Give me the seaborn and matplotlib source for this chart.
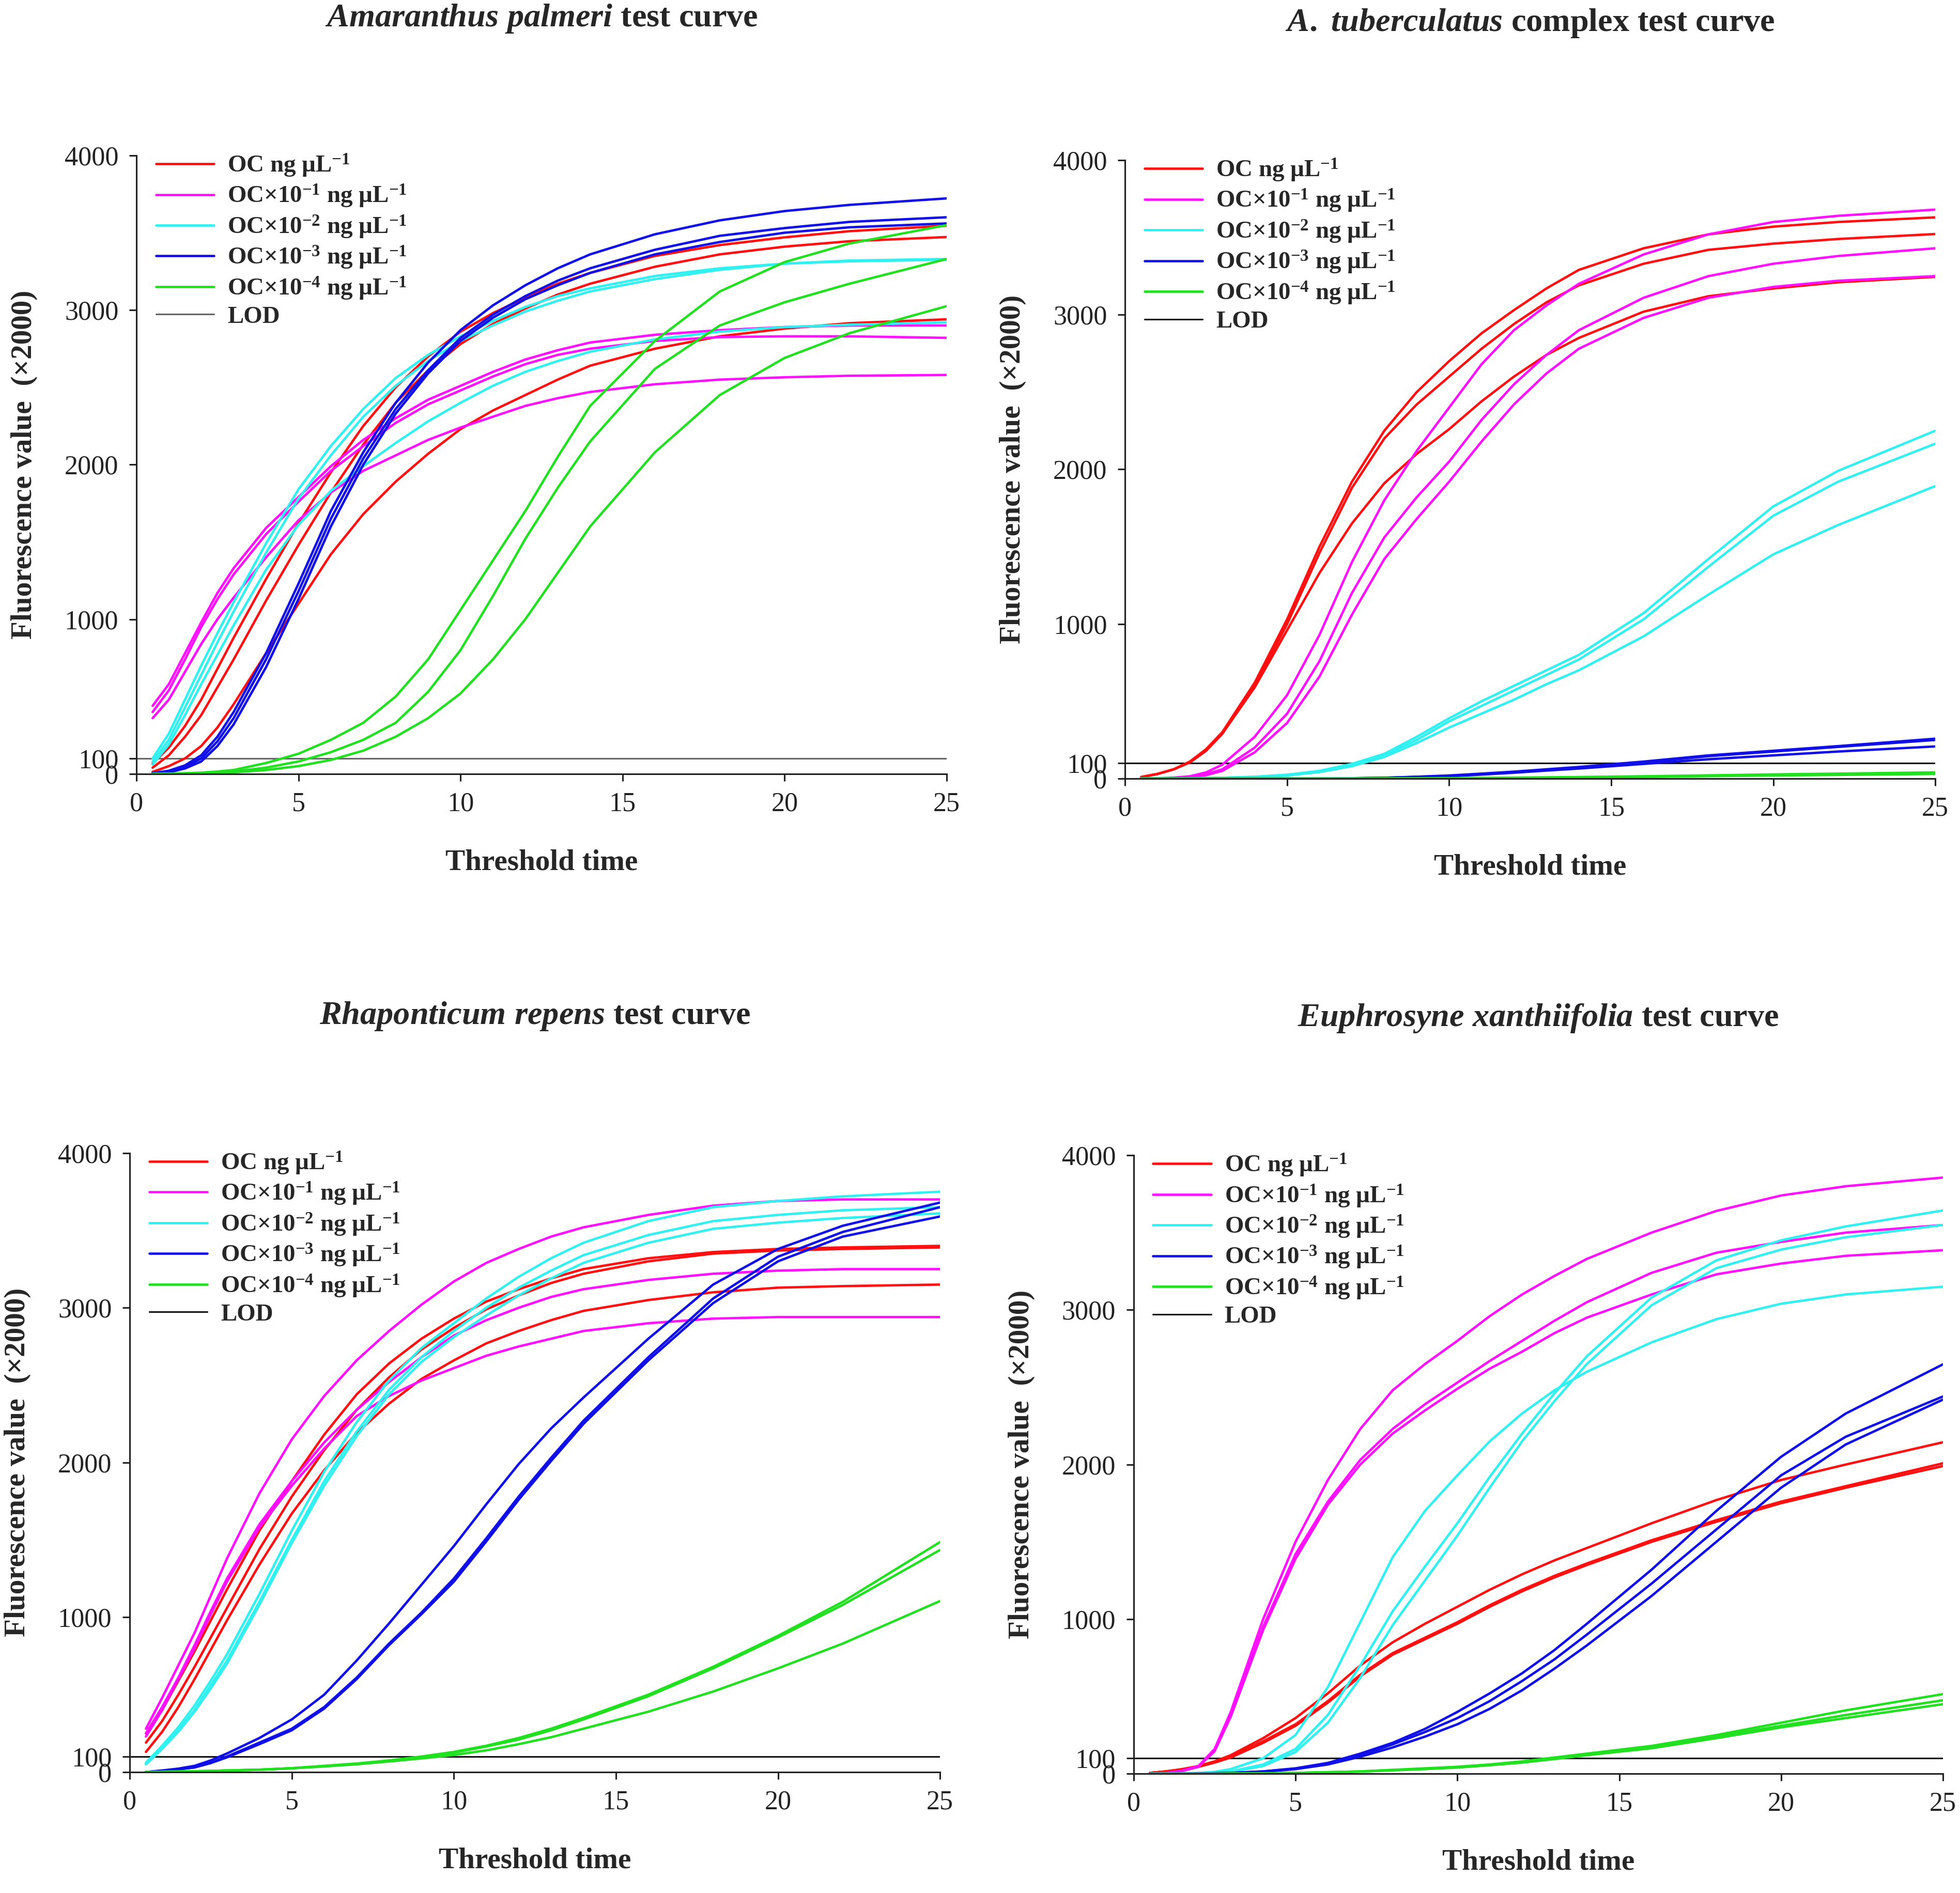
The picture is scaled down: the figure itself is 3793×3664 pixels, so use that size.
import matplotlib
matplotlib.use("Agg")
import matplotlib.pyplot as plt
import seaborn as sns
import pandas as pd
from matplotlib.lines import Line2D

# sampled threshold times (same for every curve)
X = [0.5, 1, 1.5, 2, 2.5, 3, 4, 5, 6, 7, 8, 9, 10, 11, 12, 13, 14, 16, 18, 20, 22, 25]
LOD = 100

CONC = ["OC ng µL$^{-1}$",
        "OC×10$^{-1}$ ng µL$^{-1}$",
        "OC×10$^{-2}$ ng µL$^{-1}$",
        "OC×10$^{-3}$ ng µL$^{-1}$",
        "OC×10$^{-4}$ ng µL$^{-1}$"]
COLORS = ["#ff1010", "#ff10ff", "#30f0f0", "#1010e6", "#20e020"]

# --- Amaranthus palmeri (3 replicates per dilution) ---
a_oc = [[67, 170, 310, 480, 680, 880, 1260, 1620, 1950, 2250, 2500, 2700, 2860, 2980, 3080, 3170, 3240, 3350, 3420, 3470, 3510, 3545],
        [40, 120, 240, 380, 560, 740, 1120, 1480, 1820, 2130, 2400, 2610, 2780, 2910, 3010, 3100, 3170, 3280, 3360, 3410, 3445, 3472],
        [13, 50, 100, 180, 300, 450, 780, 1100, 1420, 1680, 1890, 2070, 2230, 2350, 2450, 2550, 2640, 2750, 2830, 2880, 2915, 2940]]
a_d1 = [[440, 580, 780, 980, 1170, 1330, 1590, 1790, 1990, 2160, 2300, 2420, 2510, 2600, 2680, 2740, 2790, 2840, 2870, 2890, 2900, 2900],
        [400, 540, 740, 950, 1130, 1290, 1550, 1760, 1960, 2120, 2270, 2390, 2480, 2570, 2650, 2710, 2750, 2800, 2825, 2830, 2830, 2820],
        [360, 480, 660, 840, 1000, 1140, 1400, 1640, 1820, 1960, 2060, 2160, 2240, 2310, 2380, 2430, 2470, 2520, 2550, 2565, 2575, 2580]]
a_d2 = [[100, 260, 480, 700, 910, 1110, 1490, 1840, 2120, 2360, 2560, 2710, 2830, 2930, 3020, 3090, 3140, 3220, 3270, 3300, 3320, 3330],
        [80, 220, 430, 640, 850, 1050, 1430, 1780, 2060, 2310, 2510, 2670, 2800, 2900, 2990, 3060, 3120, 3200, 3260, 3300, 3315, 3325],
        [60, 190, 380, 580, 770, 960, 1320, 1610, 1830, 1990, 2140, 2280, 2400, 2510, 2600, 2670, 2730, 2810, 2860, 2890, 2905, 2920]]
a_d3 = [[5, 20, 55, 120, 240, 400, 780, 1230, 1700, 2080, 2400, 2660, 2870, 3030, 3160, 3270, 3360, 3490, 3580, 3640, 3680, 3722],
        [5, 15, 45, 100, 210, 360, 740, 1180, 1650, 2040, 2360, 2610, 2820, 2970, 3090, 3190, 3270, 3390, 3480, 3530, 3570, 3600],
        [3, 10, 35, 80, 180, 320, 690, 1130, 1600, 2000, 2330, 2590, 2800, 2950, 3070, 3160, 3240, 3360, 3440, 3500, 3535, 3560]]
a_d4 = [[0, 2, 4, 8, 15, 25, 70, 130, 220, 330, 500, 740, 1060, 1380, 1700, 2050, 2380, 2800, 3120, 3310, 3430, 3549],
        [0, 1, 3, 5, 10, 15, 40, 80, 140, 220, 330, 530, 800, 1150, 1520, 1850, 2150, 2620, 2900, 3050, 3170, 3330],
        [0, 0, 1, 3, 6, 10, 25, 50, 90, 150, 240, 360, 520, 740, 1000, 1300, 1600, 2080, 2450, 2690, 2850, 3025]]

# --- A. tuberculatus complex ---
b_oc = [[10, 30, 60, 110, 190, 300, 620, 1030, 1500, 1920, 2250, 2500, 2700, 2880, 3030, 3170, 3290, 3430, 3520, 3570, 3600, 3630],
        [10, 30, 60, 105, 180, 290, 600, 1000, 1460, 1880, 2200, 2420, 2600, 2780, 2940, 3080, 3190, 3330, 3420, 3460, 3490, 3522],
        [10, 30, 60, 105, 180, 290, 590, 960, 1330, 1650, 1910, 2100, 2260, 2440, 2600, 2740, 2850, 3020, 3120, 3170, 3210, 3245]]
b_d1 = [[0, 2, 6, 15, 40, 90, 270, 540, 930, 1400, 1800, 2120, 2400, 2680, 2900, 3060, 3200, 3390, 3520, 3600, 3640, 3680],
        [0, 0, 4, 10, 28, 60, 200, 420, 760, 1200, 1560, 1820, 2050, 2320, 2550, 2740, 2900, 3110, 3250, 3330, 3380, 3430],
        [0, 0, 3, 8, 22, 50, 170, 360, 660, 1060, 1420, 1680, 1920, 2180, 2420, 2620, 2780, 2980, 3110, 3180, 3220, 3250]]
b_d2 = [[0, 0, 0, 2, 3, 5, 12, 25, 50, 95, 160, 270, 390, 500, 600, 700, 800, 1070, 1420, 1760, 1990, 2250],
        [0, 0, 0, 2, 3, 5, 10, 22, 45, 88, 150, 250, 370, 470, 570, 670, 770, 1030, 1370, 1700, 1920, 2166],
        [0, 0, 0, 2, 3, 5, 10, 20, 42, 80, 140, 230, 330, 420, 510, 610, 700, 920, 1190, 1450, 1640, 1892]]
b_d3 = [[0, 0, 0, 0, 0, 0, 0, 0, 0, 2, 5, 12, 20, 32, 45, 60, 75, 110, 150, 180, 210, 258],
        [0, 0, 0, 0, 0, 0, 0, 0, 0, 2, 4, 9, 15, 26, 38, 52, 65, 95, 125, 150, 175, 208],
        [0, 0, 0, 0, 0, 0, 0, 0, 0, 2, 5, 11, 18, 30, 42, 57, 72, 105, 145, 175, 205, 250]]
b_d4 = [[0, 0, 0, 0, 0, 0, 0, 0, 0, 0, 1, 2, 3, 4, 6, 8, 10, 15, 21, 27, 32, 40],
        [0, 0, 0, 0, 0, 0, 0, 0, 0, 0, 1, 1, 2, 3, 5, 6, 8, 12, 18, 23, 28, 35],
        [0, 0, 0, 0, 0, 0, 0, 0, 0, 0, 1, 1, 2, 3, 4, 5, 7, 11, 16, 20, 24, 30]]

# --- Rhaponticum repens ---
c_oc = [[250, 400, 590, 780, 980, 1180, 1560, 1880, 2180, 2440, 2640, 2800, 2930, 3040, 3120, 3190, 3250, 3320, 3360, 3380, 3390, 3400],
        [190, 330, 500, 680, 870, 1060, 1440, 1780, 2080, 2340, 2550, 2730, 2870, 2990, 3080, 3160, 3220, 3300, 3350, 3370, 3380, 3390],
        [130, 260, 420, 600, 790, 980, 1340, 1670, 1950, 2190, 2380, 2540, 2660, 2770, 2850, 2920, 2980, 3050, 3100, 3130, 3140, 3150]]
c_d1 = [[280, 480, 690, 900, 1140, 1380, 1800, 2150, 2430, 2660, 2850, 3020, 3170, 3290, 3380, 3460, 3520, 3600, 3660, 3690, 3700, 3700],
        [250, 420, 610, 820, 1040, 1250, 1600, 1880, 2130, 2340, 2520, 2680, 2820, 2920, 3000, 3070, 3120, 3180, 3220, 3240, 3250, 3250],
        [230, 400, 600, 800, 1020, 1230, 1580, 1850, 2090, 2300, 2430, 2530, 2610, 2690, 2750, 2800, 2850, 2900, 2930, 2940, 2940, 2940]]
c_d2 = [[60, 170, 290, 430, 590, 760, 1150, 1560, 1940, 2260, 2530, 2740, 2900, 3060, 3200, 3320, 3420, 3560, 3650, 3690, 3720, 3750],
        [50, 150, 270, 400, 560, 720, 1100, 1500, 1880, 2200, 2470, 2680, 2850, 3000, 3130, 3240, 3340, 3470, 3560, 3600, 3630, 3650],
        [50, 150, 260, 390, 540, 700, 1080, 1480, 1850, 2170, 2440, 2650, 2810, 2950, 3080, 3190, 3290, 3420, 3510, 3550, 3580, 3610]]
c_d3 = [[0, 10, 22, 40, 75, 120, 220, 340, 500, 720, 960, 1210, 1460, 1730, 1990, 2220, 2420, 2800, 3150, 3380, 3530, 3680],
        [0, 8, 18, 30, 60, 100, 190, 280, 420, 610, 830, 1030, 1250, 1510, 1780, 2030, 2270, 2680, 3060, 3330, 3490, 3650],
        [0, 8, 18, 30, 58, 95, 180, 270, 410, 600, 820, 1020, 1230, 1490, 1760, 2010, 2250, 2660, 3030, 3300, 3460, 3590]]
c_d4 = [[0, 2, 3, 5, 7, 10, 15, 25, 40, 55, 75, 100, 130, 170, 220, 280, 350, 500, 680, 880, 1100, 1486],
        [0, 2, 3, 5, 7, 10, 15, 25, 38, 52, 72, 96, 125, 165, 210, 270, 340, 490, 670, 870, 1080, 1435],
        [0, 2, 3, 5, 7, 10, 15, 24, 36, 50, 68, 88, 110, 140, 180, 225, 280, 390, 520, 670, 830, 1105]]

# --- Euphrosyne xanthiifolia ---
d_oc = [[5, 15, 30, 50, 80, 120, 230, 360, 520, 700, 850, 970, 1080, 1190, 1290, 1380, 1460, 1620, 1770, 1900, 2000, 2144],
        [5, 15, 28, 45, 75, 110, 210, 320, 470, 640, 780, 880, 980, 1090, 1190, 1280, 1360, 1510, 1640, 1760, 1860, 2008],
        [5, 15, 28, 45, 72, 105, 200, 310, 460, 630, 770, 870, 970, 1080, 1180, 1270, 1350, 1500, 1630, 1750, 1850, 1990]]
d_d1 = [[0, 5, 20, 50, 160, 400, 1000, 1500, 1900, 2230, 2480, 2650, 2800, 2960, 3100, 3220, 3330, 3500, 3640, 3740, 3800, 3856],
        [0, 5, 18, 45, 150, 380, 950, 1420, 1760, 2030, 2230, 2390, 2530, 2670, 2800, 2930, 3050, 3240, 3370, 3440, 3500, 3549],
        [0, 5, 18, 45, 145, 370, 930, 1390, 1740, 2000, 2200, 2350, 2490, 2620, 2730, 2850, 2950, 3100, 3230, 3300, 3350, 3386]]
d_d2 = [[0, 0, 0, 5, 12, 30, 100, 250, 560, 980, 1400, 1700, 1930, 2150, 2330, 2480, 2600, 2790, 2940, 3040, 3100, 3150],
        [0, 0, 0, 2, 6, 15, 60, 160, 380, 700, 1050, 1340, 1620, 1920, 2200, 2460, 2700, 3080, 3320, 3450, 3540, 3643],
        [0, 0, 0, 2, 5, 12, 50, 140, 330, 620, 960, 1250, 1540, 1850, 2150, 2410, 2650, 3030, 3270, 3390, 3470, 3549]]
d_d3 = [[0, 0, 0, 2, 3, 5, 15, 35, 70, 130, 200, 290, 400, 520, 650, 800, 970, 1320, 1700, 2050, 2330, 2648],
        [0, 0, 0, 2, 3, 5, 15, 33, 65, 120, 190, 270, 360, 470, 600, 740, 900, 1230, 1580, 1930, 2180, 2440],
        [0, 0, 0, 2, 3, 5, 12, 30, 60, 110, 170, 240, 320, 420, 540, 680, 830, 1150, 1500, 1850, 2130, 2420]]
d_d4 = [[0, 0, 0, 0, 0, 1, 2, 5, 10, 15, 25, 35, 45, 60, 80, 105, 130, 180, 250, 330, 410, 515],
        [0, 0, 0, 0, 0, 1, 2, 5, 10, 15, 24, 32, 42, 57, 75, 100, 125, 175, 240, 310, 380, 475],
        [0, 0, 0, 0, 0, 1, 2, 5, 9, 14, 22, 30, 40, 55, 72, 95, 120, 165, 230, 300, 360, 450]]

TITLES = [r"$\mathit{Amaranthus\ palmeri}$ test curve",
          r"$\mathit{A.\ tuberculatus}$ complex test curve",
          r"$\mathit{Rhaponticum\ repens}$ test curve",
          r"$\mathit{Euphrosyne\ xanthiifolia}$ test curve"]
YTICKS = [0, 100, 1000, 2000, 3000, 4000]
XTICKS = [0, 5, 10, 15, 20, 25]

sns.set_theme(style="ticks")
plt.rcParams["font.family"] = ["Liberation Serif", "DejaVu Serif"]
plt.rcParams["mathtext.fontset"] = "custom"
plt.rcParams["mathtext.rm"] = "Liberation Serif:bold"
plt.rcParams["mathtext.bf"] = "Liberation Serif:bold"
plt.rcParams["mathtext.it"] = "Liberation Serif:italic:bold"


def to_frame(groups):
    rows = []
    for conc, reps in zip(CONC, groups):
        for r, ys in enumerate(reps):
            assert len(ys) == len(X), (conc, r, len(ys))
            for x, y in zip(X, ys):
                rows.append({"time": x, "fluor": y, "conc": conc, "rep": r})
    return pd.DataFrame(rows)


def draw(ax, groups, title, lod_color):
    df = to_frame(groups)
    sns.lineplot(data=df, x="time", y="fluor", hue="conc", units="rep",
                 estimator=None, hue_order=CONC, palette=COLORS,
                 linewidth=1.35, legend=False, sort=False, ax=ax)
    ax.axhline(LOD, color=lod_color, lw=0.9, zorder=1)
    ax.set_xlim(0, 25)
    ax.set_ylim(0, 4000)
    ax.set_xticks(XTICKS)
    ax.set_yticks(YTICKS)
    sns.despine(ax=ax)
    for s in ["left", "bottom"]:
        ax.spines[s].set_linewidth(0.9)
        ax.spines[s].set_color("#222222")
    ax.tick_params(direction="out", length=4, width=0.9, labelsize=15,
                   pad=6, colors="#222222")
    ax.set_xlabel("Threshold time", fontsize=16.5, fontweight="bold", labelpad=18)
    ax.set_ylabel("Fluorescence value  (×2000)", fontsize=16.5,
                  fontweight="bold", labelpad=15)
    ax.set_title(title, fontsize=18.5, fontweight="bold", pad=72)
    handles = [Line2D([], [], color=c, lw=1.35) for c in COLORS]
    handles.append(Line2D([], [], color=lod_color, lw=0.9))
    ax.legend(handles, CONC + ["LOD"], loc="upper left",
              bbox_to_anchor=(0.024, 1.005), frameon=False, borderpad=0,
              borderaxespad=0, handlelength=2.4, handletextpad=0.55,
              labelspacing=0.18, prop={"size": 13.5, "weight": "bold"})


fig = plt.figure(figsize=(3793 / 250, 3664 / 250), dpi=250)
rects = [[0.0696, 0.5912, 0.4134, 0.3267],
         [0.5740, 0.5887, 0.4134, 0.3267],
         [0.0662, 0.0639, 0.4134, 0.3270],
         [0.5784, 0.0630, 0.4129, 0.3267]]
panels = [[a_oc, a_d1, a_d2, a_d3, a_d4],
          [b_oc, b_d1, b_d2, b_d3, b_d4],
          [c_oc, c_d1, c_d2, c_d3, c_d4],
          [d_oc, d_d1, d_d2, d_d3, d_d4]]
lod_colors = ["#666666", "#111111", "#111111", "#111111"]

for rect, groups, title, lc in zip(rects, panels, TITLES, lod_colors):
    ax = fig.add_axes(rect)
    draw(ax, groups, title, lc)

fig.savefig("out.png", dpi=250, facecolor="white")
